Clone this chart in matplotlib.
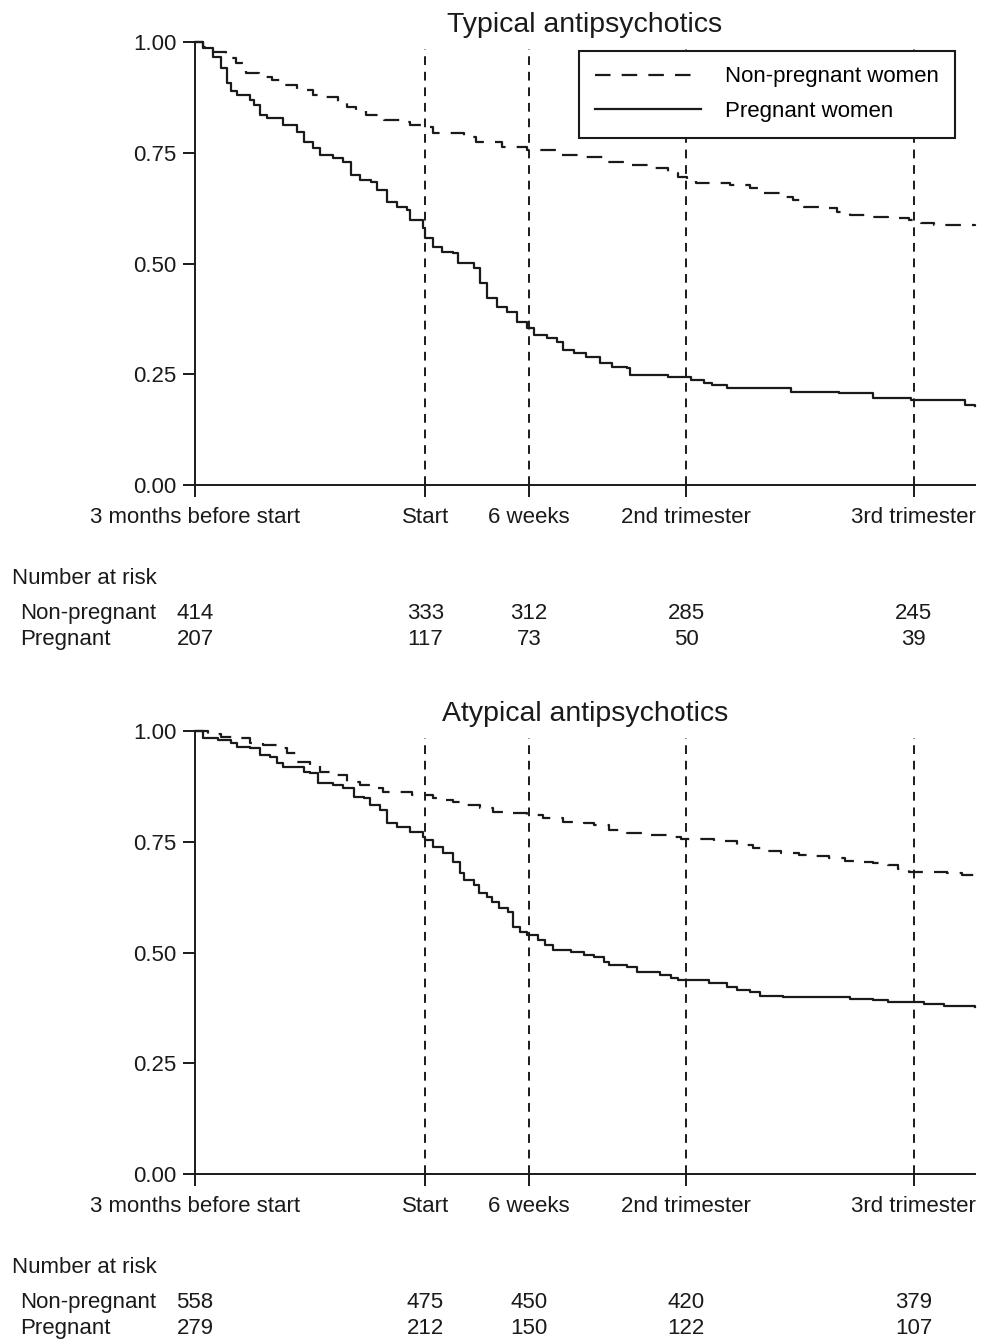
import matplotlib
matplotlib.use("Agg")
import matplotlib.pyplot as plt
from matplotlib import transforms

plt.rcParams['font.family'] = ['Liberation Sans', 'DejaVu Sans']
plt.rcParams['font.size'] = 16

# time axis in days relative to start of pregnancy/index
tick_pos = [-90, 0, 40.5, 102, 191]
tick_labels = ["3 months before start", "Start", "6 weeks", "2nd trimester", "3rd trimester"]
t_end = 215

# Typical antipsychotics - pregnant women (step times, survival after step)
typ_preg_t = [-90, -87, -83, -80, -77.5, -76, -73.5, -68.5, -67, -64.5, -62, -55.5, -50, -47.5,
              -44, -41, -36, -32, -29, -25.5, -21, -19, -15, -11, -7, -6, -1, 0, 3, 6.5, 11, 13,
              19, 21.5, 24, 28, 32, 36, 40, 42.5, 47.5, 51.5, 54, 58, 63, 68.5, 73, 79, 80, 95,
              104, 109, 112, 118, 143, 162, 175, 190, 211, 215]
typ_preg_s = [1.0, 0.986, 0.966, 0.941, 0.907, 0.89, 0.88, 0.869, 0.858, 0.835, 0.829, 0.813,
              0.797, 0.774, 0.760, 0.745, 0.738, 0.729, 0.70, 0.688, 0.684, 0.666, 0.639, 0.628,
              0.621, 0.598, 0.580, 0.558, 0.537, 0.526, 0.524, 0.501, 0.490, 0.456, 0.422,
              0.402, 0.391, 0.368, 0.354, 0.339, 0.332, 0.323, 0.305, 0.298, 0.289, 0.275,
              0.266, 0.264, 0.248, 0.244, 0.237, 0.230, 0.226, 0.219, 0.210, 0.208, 0.196,
              0.192, 0.181, 0.178]

# Typical antipsychotics - non-pregnant women
typ_non_t = [-90, -87, -83, -78, -74, -70, -65, -60, -56, -50, -44, -40, -34, -30.5, -27, -23,
             -16, -10, -6, -1, 3, 15, 20, 30, 40, 52, 61, 71, 81, 87, 95, 99, 102.5, 106, 119,
             127, 130, 139, 144, 148, 155, 161, 166, 173, 181, 189, 194, 199, 215]
typ_non_s = [1.0, 0.989, 0.977, 0.964, 0.953, 0.930, 0.921, 0.914, 0.903, 0.892, 0.880, 0.876,
             0.865, 0.853, 0.846, 0.835, 0.824, 0.820, 0.813, 0.809, 0.795, 0.786, 0.774,
             0.763, 0.756, 0.745, 0.741, 0.729, 0.722, 0.715, 0.704, 0.695, 0.688, 0.682,
             0.677, 0.670, 0.659, 0.650, 0.643, 0.628, 0.625, 0.616, 0.609, 0.605, 0.603,
             0.598, 0.591, 0.587, 0.585]

# Atypical antipsychotics - pregnant women
atyp_preg_t = [-90, -87, -81, -76, -73.5, -68.5, -64.5, -60.5, -58, -55.5, -47.5, -45, -42, -36,
               -32, -28, -24, -21.5, -17.5, -15, -11, -6, -1, 0, 3, 7, 11, 13.5, 15, 19, 21, 24,
               26, 29, 32.5, 34.5, 37, 40, 44, 47, 50, 57, 62, 66, 70, 72, 79, 83, 92, 96, 99,
               111, 118, 122, 127, 131, 140, 166, 175, 181, 195, 203, 215]
atyp_preg_s = [1.0, 0.984, 0.980, 0.973, 0.964, 0.962, 0.946, 0.941, 0.928, 0.919, 0.907, 0.905,
               0.883, 0.878, 0.871, 0.851, 0.849, 0.833, 0.822, 0.792, 0.783, 0.772, 0.761,
               0.754, 0.738, 0.725, 0.704, 0.680, 0.664, 0.652, 0.634, 0.626, 0.614, 0.600,
               0.591, 0.558, 0.546, 0.539, 0.528, 0.517, 0.506, 0.501, 0.494, 0.490, 0.479,
               0.472, 0.467, 0.456, 0.449, 0.442, 0.438, 0.431, 0.422, 0.415, 0.411, 0.402,
               0.400, 0.395, 0.393, 0.388, 0.384, 0.379, 0.377]

# Atypical antipsychotics - non-pregnant women
atyp_non_t = [-90, -85, -80, -73.5, -68.5, -63.5, -58, -54, -50, -45, -41, -36, -30.5, -25.5,
              -20.5, -16.5, -5, 3, 7, 11, 16.5, 21.5, 26.5, 34.5, 40, 46, 54, 62, 66, 72, 79,
              87, 95, 100, 113, 122, 128, 134, 139, 146, 153, 158, 164, 170, 175, 181, 185,
              189, 204, 210, 215]
atyp_non_s = [1.0, 0.993, 0.986, 0.984, 0.973, 0.968, 0.962, 0.950, 0.930, 0.923, 0.907, 0.901,
              0.885, 0.878, 0.871, 0.862, 0.855, 0.849, 0.844, 0.840, 0.833, 0.826, 0.817,
              0.815, 0.810, 0.804, 0.795, 0.792, 0.788, 0.777, 0.770, 0.765, 0.761, 0.756,
              0.752, 0.743, 0.736, 0.729, 0.724, 0.720, 0.718, 0.713, 0.707, 0.704, 0.702,
              0.697, 0.688, 0.682, 0.680, 0.675, 0.673]

# number at risk at the tick positions
typ_risk_non = [414, 333, 312, 285, 245]
typ_risk_preg = [207, 117, 73, 50, 39]
atyp_risk_non = [558, 475, 450, 420, 379]
atyp_risk_preg = [279, 212, 150, 122, 107]

INK = "#1a1a1a"

fig = plt.figure(figsize=(9.83, 13.41), dpi=100)


def panel(rect, title, t_non, s_non, t_preg, s_preg, risk_non, risk_preg, legend=False):
    ax = fig.add_axes(rect)
    ax.set_xlim(-90, t_end)
    ax.set_ylim(0, 1)

    for x in tick_pos[1:]:
        ax.axvline(x, ymin=0, ymax=0.985, color=INK, lw=1.4, linestyle=(0, (4.5, 3.5)))

    ax.plot(t_non, s_non, drawstyle="steps-post", color=INK, lw=1.6,
            linestyle=(0, (7, 5)), clip_on=False, label="Non-pregnant women")
    ax.plot(t_preg, s_preg, drawstyle="steps-post", color=INK, lw=1.6,
            clip_on=False, label="Pregnant women")

    for side in ["top", "right"]:
        ax.spines[side].set_visible(False)
    for side in ["left", "bottom"]:
        ax.spines[side].set_linewidth(1.4)
        ax.spines[side].set_color(INK)

    ax.set_yticks([0, 0.25, 0.5, 0.75, 1.0])
    ax.set_yticklabels(["0.00", "0.25", "0.50", "0.75", "1.00"])
    ax.set_xticks(tick_pos)
    ax.set_xticklabels(tick_labels)
    ax.tick_params(direction="out", length=8.5, width=1.4, color=INK,
                   labelsize=16, labelcolor=INK, pad=5)
    ax.tick_params(axis="x", pad=7)

    ax.set_title(title, fontsize=20.5, color=INK, pad=7)

    if legend:
        leg = ax.legend(loc="upper left", bbox_to_anchor=(0.4923, 0.98),
                        borderaxespad=0, fontsize=16, handlelength=4.8,
                        handletextpad=1.08, labelspacing=0.62, borderpad=0.7,
                        fancybox=False, framealpha=1, edgecolor=INK)
        leg.get_frame().set_linewidth(1.5)

    # number at risk table
    tr = transforms.blended_transform_factory(fig.transFigure, ax.transAxes)
    ax.text(12 / 983, -0.21, "Number at risk", transform=tr, fontsize=16,
            color=INK, va="center", ha="left")
    ax.text(20 / 983, -0.29, "Non-pregnant", transform=tr, fontsize=16,
            color=INK, va="center", ha="left")
    ax.text(20 / 983, -0.348, "Pregnant", transform=tr, fontsize=16,
            color=INK, va="center", ha="left")
    xt = ax.get_xaxis_transform()
    for x, n1, n2 in zip(tick_pos, risk_non, risk_preg):
        ax.text(x, -0.29, str(n1), transform=xt, fontsize=16, color=INK,
                ha="center", va="center")
        ax.text(x, -0.348, str(n2), transform=xt, fontsize=16, color=INK,
                ha="center", va="center")
    return ax


panel([0.1984, 0.6383, 0.7935, 0.3304], "Typical antipsychotics",
      typ_non_t, typ_non_s, typ_preg_t, typ_preg_s, typ_risk_non, typ_risk_preg, legend=True)
panel([0.1984, 0.1245, 0.7935, 0.3304], "Atypical antipsychotics",
      atyp_non_t, atyp_non_s, atyp_preg_t, atyp_preg_s, atyp_risk_non, atyp_risk_preg)

fig.savefig("out.png", dpi=100)
